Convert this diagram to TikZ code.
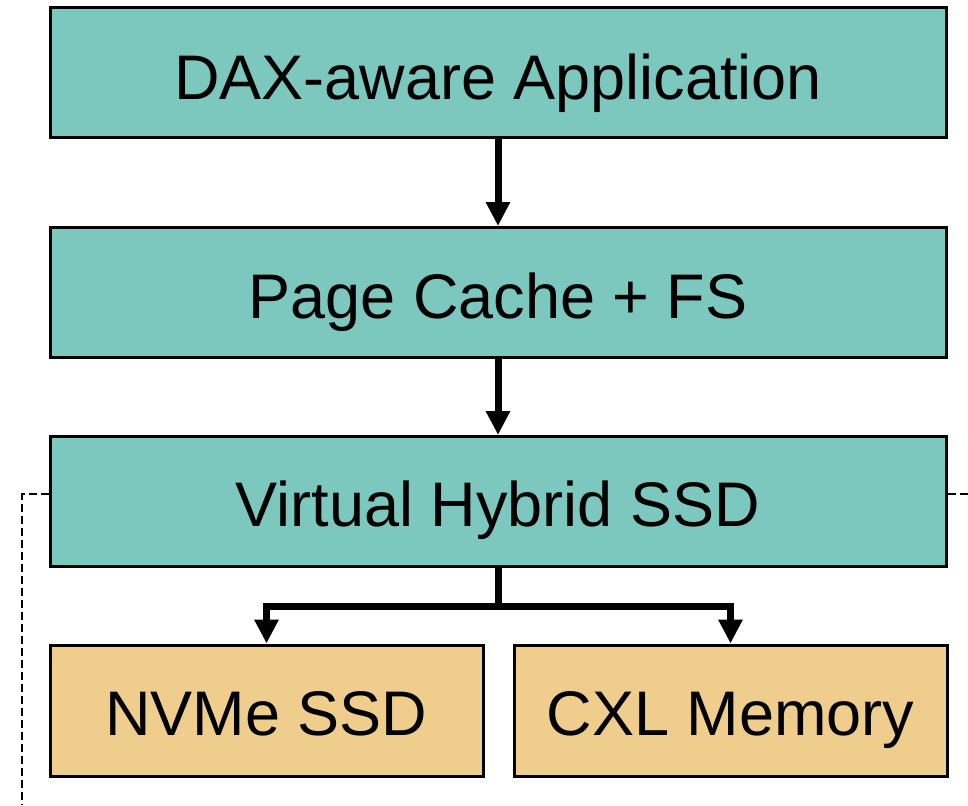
\documentclass[tikz,border=0pt]{standalone}
\usepackage{fontspec}
\setmainfont{Liberation Sans}
\usetikzlibrary{arrows.meta}
\definecolor{layerteal}{HTML}{7CC8BE}
\definecolor{devtan}{HTML}{EFCD8D}
\begin{document}
\begin{tikzpicture}[x=1pt,y=-1pt,
  boxtext/.style={font=\fontsize{63}{72}\selectfont, text height=45pt, text depth=0pt, inner sep=0pt},
  layer/.style={draw=black, line width=3pt, fill=layerteal, minimum width=896pt, minimum height=130pt},
  device/.style={draw=black, line width=3pt, fill=devtan, minimum width=433pt, minimum height=131pt},
  flow/.style={line width=7pt, -{Triangle[length=24pt,width=23pt]}},
  link/.style={line width=2.7pt, dash pattern=on 8pt off 4pt}]
\useasboundingbox (0,0) rectangle (968,805);
\node[layer] (app) at (498,73) {};
\node[layer] (cache) at (498,292.5) {};
\node[layer] (vssd) at (498,501.5) {};
\node[device] (nvme) at (266.5,710.5) {};
\node[device] (cxl) at (730.5,710.5) {};
% labels, cap height centred a little below each box centre
\node[boxtext] (appL) at ([yshift=-4pt]app.center) {DAX-aware Application};
\node[boxtext] (cacheL) at ([yshift=-3pt]cache.center) {Page Cache + FS};
\node[boxtext] (vssdL) at ([yshift=-2pt]vssd.center) {Virtual Hybrid SSD};
\node[boxtext] (nvmeL) at ([yshift=-2pt]nvme.center) {NVMe SSD};
\node[boxtext] (cxlL) at ([yshift=-2pt]cxl.center) {CXL Memory};
\coordinate (split) at (498,606);
\coordinate (lcorner) at (22,494);
\coordinate (lend) at (22,805);
\coordinate (rend) at (968,494);
\draw[flow] (app) -- (cache);
\draw[flow] (cache) -- (vssd);
\draw[line width=7pt] (vssd.south) -- (split);
\draw[flow] (split) -| (nvme.north);
\draw[flow] (split) -| (cxl.north);
\draw[link] (vssd.west |- lcorner) -- (lcorner) -- (lend);
\draw[link] (vssd.east |- rend) -- (rend);
\end{tikzpicture}
\end{document}
